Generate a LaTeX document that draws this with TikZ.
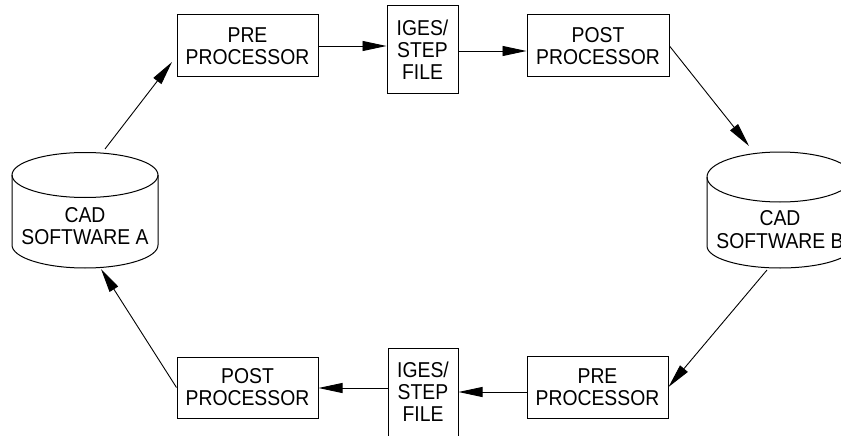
\documentclass[tikz,border=0pt]{standalone}
\usepackage{fontspec}
\setmainfont{Liberation Sans}[FakeStretch=0.9]
\usetikzlibrary{arrows.meta,calc}
\begin{document}
\begin{tikzpicture}[x=1pt,y=-1pt,
  box/.style={draw, line width=1pt, align=center, inner sep=0pt,
    font=\fontsize{21.5}{22}\selectfont},
  cyl/.style={draw, line width=1pt},
  lbl/.style={align=center, inner sep=0pt, font=\fontsize{21.5}{22.5}\selectfont},
  arr/.style={draw, line width=0.9pt, -{Triangle[length=24pt,width=10pt]}}]
\useasboundingbox (0,0) rectangle (841,436);
\clip (0,0) rectangle (841,436);
% cylinder A
\path[cyl] (12,175) -- (12,245) arc[start angle=180,end angle=0,x radius=73,y radius=23] -- (158,175);
\path[cyl] (85,175) ellipse[x radius=73,y radius=22.5];
\node[lbl] (cadA) at (85,226) {CAD\\SOFTWARE A};
% cylinder B
\path[cyl] (707,177) -- (707,246) arc[start angle=180,end angle=0,x radius=73,y radius=22] -- (853,177);
\path[cyl] (780,177) ellipse[x radius=73,y radius=25];
\node[lbl] (cadB) at (780,229.5) {CAD\\SOFTWARE B};
% boxes
\node[box, minimum width=141pt, minimum height=62pt] (pre1) at (247.5,46) {PRE\\PROCESSOR};
\node[box, minimum width=71pt, minimum height=88pt] (iges1) at (422.5,50) {IGES/\\STEP\\FILE};
\node[box, minimum width=142pt, minimum height=62pt] (post1) at (598,46) {POST\\PROCESSOR};
\node[box, minimum width=141pt, minimum height=61pt] (post2) at (247.5,387.5) {POST\\PROCESSOR};
\node[box, minimum width=70pt, minimum height=88pt] (iges2) at (423,392) {IGES/\\STEP\\FILE};
\node[box, minimum width=141pt, minimum height=62pt] (pre2) at (597.5,387) {PRE\\PROCESSOR};
% connector ends
\coordinate (Atop) at (105,149);
\coordinate (Abot) at (101,269);
\coordinate (Btop) at (749,146);
\coordinate (Bbot) at (767,270);
\coordinate (pre1in) at (172,62);
% connectors
\draw[arr] (Atop) -- (pre1in);
\draw[arr] (pre1.east) -- (pre1.east -| iges1.west);
\draw[arr] ([yshift=-1pt]iges1.east) -- ([yshift=-1pt]iges1.east -| post1.west);
\draw[arr] (post1.east) -- (Btop);
\draw[arr] (Bbot) -- (pre2.east);
\draw[arr] ([yshift=-5pt]pre2.west) -- ([yshift=-5pt]pre2.west -| iges2.east);
\draw[arr] ([yshift=4pt]iges2.west) -- ([yshift=4pt]iges2.west -| post2.east);
\draw[arr] (post2.west) -- (Abot);
\end{tikzpicture}
\end{document}
